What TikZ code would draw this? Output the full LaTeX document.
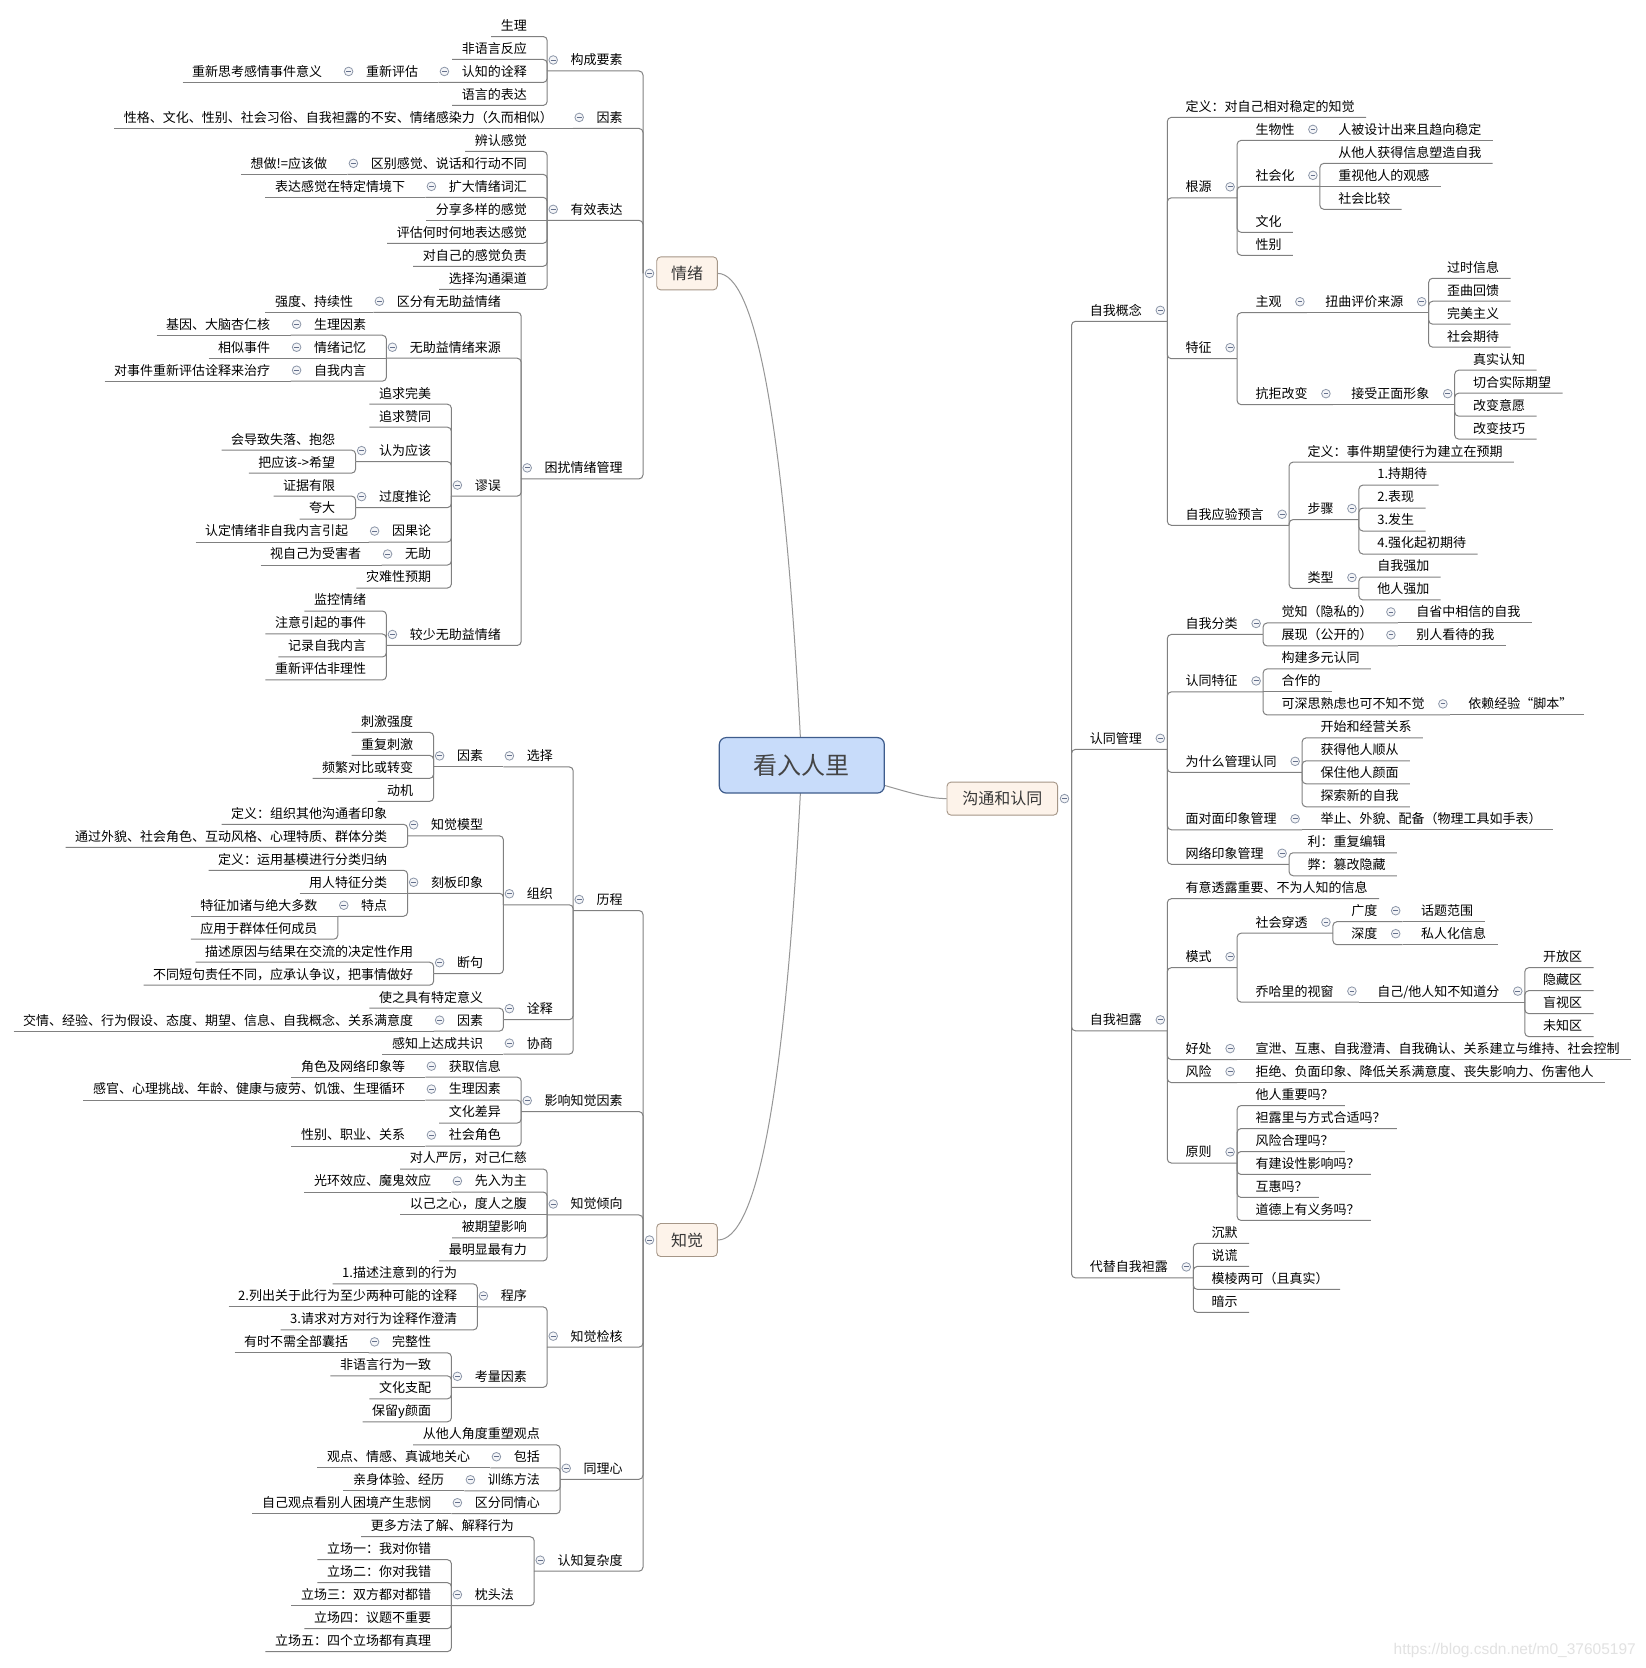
\documentclass[tikz,border=0pt]{standalone}
\usepackage{fontspec}
\setmainfont{Noto Sans CJK SC}
\newfontfamily\wmfont{Liberation Sans}
\usetikzlibrary{calc,backgrounds}
\definecolor{linegray}{RGB}{128,128,128}
\definecolor{curvegray}{RGB}{150,150,150}
\definecolor{brfill}{RGB}{253,243,234}
\definecolor{brdraw}{RGB}{165,150,135}
\definecolor{brtext}{RGB}{55,55,55}
\definecolor{rootfill}{RGB}{200,220,250}
\definecolor{rootdraw}{RGB}{62,92,140}
\definecolor{roottext}{RGB}{68,68,68}
\definecolor{colfill}{RGB}{244,245,248}
\definecolor{coldraw}{RGB}{140,150,168}
\definecolor{colminus}{RGB}{100,112,140}
\definecolor{wmgray}{RGB}{226,226,226}

\newdimen\mmtx
\newdimen\mmty
\newcount\leafcnt
\def\mmpitch{22.98}
\def\mmybase{0}

\tikzset{
  txt/.style={inner sep=0pt, outer sep=0pt, font=\fontsize{13}{13}\selectfont, text=black},
  conn/.style={draw=linegray, line width=1pt, rounded corners=4pt},
  curveline/.style={draw=curvegray, line width=1pt},
  branchbox/.style={draw=brdraw, fill=brfill, rounded corners=4pt, line width=0.9pt,
    font=\fontsize{16}{16}\selectfont, text=brtext, inner sep=0pt, minimum height=33pt},
  rootbox/.style={draw=rootdraw, fill=rootfill, rounded corners=7pt, line width=1.2pt,
    font=\fontsize{24}{24}\selectfont, text=roottext, inner sep=0pt,
    minimum width=165pt, minimum height=55.5pt},
  colc/.style={draw=coldraw, fill=colfill, line width=0.8pt},
  colm/.style={draw=colminus, line width=0.9pt},
}

% collapse mark
\newcommand\mmcol[2]{%
  \draw[colc] (#1,#2) circle (4.3pt);
  \draw[colm] (#1-2.4,#2) -- (#1+2.4,#2);
}
% parent junction -> \mmjx, \mmjy (downward)
\newcommand\getJ[1]{%
  \pgfextractx{\mmtx}{\pgfpointanchor{#1J}{center}}%
  \pgfextracty{\mmty}{\pgfpointanchor{#1J}{center}}%
  \pgfmathsetmacro\mmjx{\mmtx}%
  \pgfmathsetmacro\mmjy{-\mmty}%
}
\newcommand\mmconnect[1]{%
  \pgfmathsetmacro\mmul{\mmyc+11}%
  \pgfmathsetmacro\mmdiff{abs(\mmul-\mmjy)}%
  \ifdim\mmdiff pt<0.5pt
    \draw[conn] (\mmfar,\mmul) -- (\mmjx,\mmul);
  \else
    \draw[conn] (\mmfar,\mmul) -- (\mmjx,\mmul) -- (#1J);
  \fi
}
% left side
\newcommand\Lleaf[3]{%
  \global\advance\leafcnt by 1
  \getJ{#1}%
  \pgfmathsetmacro\mmyc{\mmybase+\mmpitch*(#2)}%
  \node[txt,anchor=base east] (leaf\the\leafcnt) at (\mmjx-20.4,\mmyc+4.9) {#3};
  \pgfextractx{\mmtx}{\pgfpointanchor{leaf\the\leafcnt}{west}}%
  \pgfmathsetmacro\mmfar{\mmtx-9.6}%
  \mmconnect{#1}%
}
\newcommand\Lpar[4]{%
  \getJ{#2}%
  \pgfmathsetmacro\mmyc{\mmybase+\mmpitch*(#3)}%
  \node[txt,anchor=base east] (#1) at (\mmjx-20.4,\mmyc+4.9) {#4};
  \pgfextractx{\mmtx}{\pgfpointanchor{#1}{west}}%
  \pgfmathsetmacro\mmwx{\mmtx}%
  \pgfmathsetmacro\mmfar{\mmwx-23.4}%
  \pgfmathsetmacro\mmcx{\mmwx-17.4}%
  \coordinate (#1J) at (\mmfar,\mmyc+11);
  \mmcol{\mmcx}{\mmyc}%
  \mmconnect{#2}%
}
% right side
\newcommand\Rleaf[3]{%
  \global\advance\leafcnt by 1
  \getJ{#1}%
  \pgfmathsetmacro\mmyc{\mmybase+\mmpitch*(#2)}%
  \node[txt,anchor=base west] (leaf\the\leafcnt) at (\mmjx+18.4,\mmyc+4.9) {#3};
  \pgfextractx{\mmtx}{\pgfpointanchor{leaf\the\leafcnt}{east}}%
  \pgfmathsetmacro\mmfar{\mmtx+11.4}%
  \mmconnect{#1}%
}
\newcommand\Rpar[4]{%
  \getJ{#2}%
  \pgfmathsetmacro\mmyc{\mmybase+\mmpitch*(#3)}%
  \node[txt,anchor=base west] (#1) at (\mmjx+18.4,\mmyc+4.9) {#4};
  \pgfextractx{\mmtx}{\pgfpointanchor{#1}{east}}%
  \pgfmathsetmacro\mmwx{\mmtx}%
  \pgfmathsetmacro\mmfar{\mmwx+25.4}%
  \pgfmathsetmacro\mmcx{\mmwx+18.4}%
  \coordinate (#1J) at (\mmfar,\mmyc+11);
  \mmcol{\mmcx}{\mmyc}%
  \mmconnect{#2}%
}

\begin{document}
\begin{tikzpicture}[x=1pt,y=-1pt]
\useasboundingbox (0,0) rectangle (1646,1668);

% central and main topics
\node[rootbox] (root) at (801.8,765.3) {看入人里};
\node[branchbox, minimum width=60.6pt] (QX) at (687,273.4) {情绪};
\node[branchbox, minimum width=60.6pt] (ZJ) at (687,1240) {知觉};
\node[branchbox, minimum width=110.6pt] (GT) at (1002.3,798.6) {沟通和认同};
\coordinate (QXJ) at (643,273.4);
\coordinate (ZJJ) at (643,1240);
\coordinate (GTJ) at (1071.5,798.6);
\mmcol{649.5}{273.4}
\mmcol{649.5}{1240}
\mmcol{1064.5}{798.6}

\begin{pgfonlayer}{background}
\fill[white] (0,0) rectangle (1646,1668);
\draw[curveline] (QX.east) .. controls (755,273.4) and (785,420) .. (root.center);
\draw[curveline] (ZJ.east) .. controls (755,1240) and (785,1110) .. (root.center);
\draw[curveline] (GT.west) .. controls (915,798.6) and (880,780) .. (root.center);
\end{pgfonlayer}

% ---------------- 情绪 ----------------
\def\mmybase{25.5}
\Lpar{gc}{QX}{1.5}{构成要素}
\Lleaf{gc}{0}{生理}
\Lleaf{gc}{1}{非语言反应}
\Lpar{rzqs}{gc}{2}{认知的诠释}
\Lpar{cxpg}{rzqs}{2}{重新评估}
\Lleaf{cxpg}{2}{重新思考感情事件意义}
\Lleaf{gc}{3}{语言的表达}
\Lpar{ysA}{QX}{4}{因素}
\Lleaf{ysA}{4}{性格、文化、性别、社会习俗、自我袒露的不安、情绪感染力（久而相似）}
\Lpar{yxbd}{QX}{8}{有效表达}
\Lleaf{yxbd}{5}{辨认感觉}
\Lpar{qbgj}{yxbd}{6}{区别感觉、说话和行动不同}
\Lleaf{qbgj}{6}{想做!=应该做}
\Lpar{kdqx}{yxbd}{7}{扩大情绪词汇}
\Lleaf{kdqx}{7}{表达感觉在特定情境下}
\Lleaf{yxbd}{8}{分享多样的感觉}
\Lleaf{yxbd}{9}{评估何时何地表达感觉}
\Lleaf{yxbd}{10}{对自己的感觉负责}
\Lleaf{yxbd}{11}{选择沟通渠道}
\Lpar{krgl}{QX}{19.25}{困扰情绪管理}
\Lpar{qfyw}{krgl}{12}{区分有无助益情绪}
\Lleaf{qfyw}{12}{强度、持续性}
\Lpar{wzly}{krgl}{14}{无助益情绪来源}
\Lpar{slysA}{wzly}{13}{生理因素}
\Lleaf{slysA}{13}{基因、大脑杏仁核}
\Lpar{qxjy}{wzly}{14}{情绪记忆}
\Lleaf{qxjy}{14}{相似事件}
\Lpar{zwny}{wzly}{15}{自我内言}
\Lleaf{zwny}{15}{对事件重新评估诠释来治疗}
\Lpar{mw}{krgl}{20}{谬误}
\Lleaf{mw}{16}{追求完美}
\Lleaf{mw}{17}{追求赞同}
\Lpar{rwyg}{mw}{18.5}{认为应该}
\Lleaf{rwyg}{18}{会导致失落、抱怨}
\Lleaf{rwyg}{19}{把应该->希望}
\Lpar{gdtl}{mw}{20.5}{过度推论}
\Lleaf{gdtl}{20}{证据有限}
\Lleaf{gdtl}{21}{夸大}
\Lpar{ygl}{mw}{22}{因果论}
\Lleaf{ygl}{22}{认定情绪非自我内言引起}
\Lpar{wzh}{mw}{23}{无助}
\Lleaf{wzh}{23}{视自己为受害者}
\Lleaf{mw}{24}{灾难性预期}
\Lpar{jswz}{krgl}{26.5}{较少无助益情绪}
\Lleaf{jswz}{25}{监控情绪}
\Lleaf{jswz}{26}{注意引起的事件}
\Lleaf{jswz}{27}{记录自我内言}
\Lleaf{jswz}{28}{重新评估非理性}

% ---------------- 知觉 ----------------
\def\mmybase{721.4}
\Lpar{lc}{ZJ}{7.75}{历程}
\Lpar{xz}{lc}{1.5}{选择}
\Lpar{xzys}{xz}{1.5}{因素}
\Lleaf{xzys}{0}{刺激强度}
\Lleaf{xzys}{1}{重复刺激}
\Lleaf{xzys}{2}{频繁对比或转变}
\Lleaf{xzys}{3}{动机}
\Lpar{zz}{lc}{7.5}{组织}
\Lpar{zjmx}{zz}{4.5}{知觉模型}
\Lleaf{zjmx}{4}{定义：组织其他沟通者印象}
\Lleaf{zjmx}{5}{通过外貌、社会角色、互动风格、心理特质、群体分类}
\Lpar{kbyx}{zz}{7}{刻板印象}
\Lleaf{kbyx}{6}{定义：运用基模进行分类归纳}
\Lleaf{kbyx}{7}{用人特征分类}
\Lpar{td}{kbyx}{8}{特点}
\Lleaf{td}{8}{特征加诸与绝大多数}
\Lleaf{td}{9}{应用于群体任何成员}
\Lpar{dj}{zz}{10.5}{断句}
\Lleaf{dj}{10}{描述原因与结果在交流的决定性作用}
\Lleaf{dj}{11}{不同短句责任不同，应承认争议，把事情做好}
\Lpar{qs}{lc}{12.5}{诠释}
\Lleaf{qs}{12}{使之具有特定意义}
\Lpar{qsys}{qs}{13}{因素}
\Lleaf{qsys}{13}{交情、经验、行为假设、态度、期望、信息、自我概念、关系满意度}
\Lpar{xs}{lc}{14}{协商}
\Lleaf{xs}{14}{感知上达成共识}
\Lpar{yxzj}{ZJ}{16.5}{影响知觉因素}
\Lpar{hqxx}{yxzj}{15}{获取信息}
\Lleaf{hqxx}{15}{角色及网络印象等}
\Lpar{slysB}{yxzj}{16}{生理因素}
\Lleaf{slysB}{16}{感官、心理挑战、年龄、健康与疲劳、饥饿、生理循环}
\Lleaf{yxzj}{17}{文化差异}
\Lpar{shjs}{yxzj}{18}{社会角色}
\Lleaf{shjs}{18}{性别、职业、关系}
\Lpar{zjqx}{ZJ}{21}{知觉倾向}
\Lleaf{zjqx}{19}{对人严厉，对己仁慈}
\Lpar{xrwz}{zjqx}{20}{先入为主}
\Lleaf{xrwz}{20}{光环效应、魔鬼效应}
\Lleaf{zjqx}{21}{以己之心，度人之腹}
\Lleaf{zjqx}{22}{被期望影响}
\Lleaf{zjqx}{23}{最明显最有力}
\Lpar{zjjh}{ZJ}{26.75}{知觉检核}
\Lpar{cx}{zjjh}{25}{程序}
\Lleaf{cx}{24}{1.描述注意到的行为}
\Lleaf{cx}{25}{2.列出关于此行为至少两种可能的诠释}
\Lleaf{cx}{26}{3.请求对方对行为诠释作澄清}
\Lpar{klys}{zjjh}{28.5}{考量因素}
\Lpar{wzx}{klys}{27}{完整性}
\Lleaf{wzx}{27}{有时不需全部囊括}
\Lleaf{klys}{28}{非语言行为一致}
\Lleaf{klys}{29}{文化支配}
\Lleaf{klys}{30}{保留y颜面}
\Lpar{tlx}{ZJ}{32.5}{同理心}
\Lleaf{tlx}{31}{从他人角度重塑观点}
\Lpar{bk}{tlx}{32}{包括}
\Lleaf{bk}{32}{观点、情感、真诚地关心}
\Lpar{xlff}{tlx}{33}{训练方法}
\Lleaf{xlff}{33}{亲身体验、经历}
\Lpar{qftq}{tlx}{34}{区分同情心}
\Lleaf{qftq}{34}{自己观点看别人困境产生悲悯}
\Lpar{rzfz}{ZJ}{36.5}{认知复杂度}
\Lleaf{rzfz}{35}{更多方法了解、解释行为}
\Lpar{ztf}{rzfz}{38}{枕头法}
\Lleaf{ztf}{36}{立场一：我对你错}
\Lleaf{ztf}{37}{立场二：你对我错}
\Lleaf{ztf}{38}{立场三：双方都对都错}
\Lleaf{ztf}{39}{立场四：议题不重要}
\Lleaf{ztf}{40}{立场五：四个立场都有真理}

% ---------------- 沟通和认同 ----------------
\def\mmybase{106.4}
\Rpar{zwgn}{GT}{8.875}{自我概念}
\Rleaf{zwgn}{0}{定义：对自己相对稳定的知觉}
\Rpar{gy}{zwgn}{3.5}{根源}
\Rpar{swx}{gy}{1}{生物性}
\Rleaf{swx}{1}{人被设计出来且趋向稳定}
\Rpar{shh}{gy}{3}{社会化}
\Rleaf{shh}{2}{从他人获得信息塑造自我}
\Rleaf{shh}{3}{重视他人的观感}
\Rleaf{shh}{4}{社会比较}
\Rleaf{gy}{5}{文化}
\Rleaf{gy}{6}{性别}
\Rpar{tzA}{zwgn}{10.5}{特征}
\Rpar{zg}{tzA}{8.5}{主观}
\Rpar{nqpj}{zg}{8.5}{扭曲评价来源}
\Rleaf{nqpj}{7}{过时信息}
\Rleaf{nqpj}{8}{歪曲回馈}
\Rleaf{nqpj}{9}{完美主义}
\Rleaf{nqpj}{10}{社会期待}
\Rpar{kjgb}{tzA}{12.5}{抗拒改变}
\Rpar{jszm}{kjgb}{12.5}{接受正面形象}
\Rleaf{jszm}{11}{真实认知}
\Rleaf{jszm}{12}{切合实际期望}
\Rleaf{jszm}{13}{改变意愿}
\Rleaf{jszm}{14}{改变技巧}
\Rpar{zwyy}{zwgn}{17.75}{自我应验预言}
\Rleaf{zwyy}{15}{定义：事件期望使行为建立在预期}
\Rpar{bz}{zwyy}{17.5}{步骤}
\Rleaf{bz}{16}{1.持期待}
\Rleaf{bz}{17}{2.表现}
\Rleaf{bz}{18}{3.发生}
\Rleaf{bz}{19}{4.强化起初期待}
\Rpar{lx}{zwyy}{20.5}{类型}
\Rleaf{lx}{20}{自我强加}
\Rleaf{lx}{21}{他人强加}
\Rpar{rtgl}{GT}{27.5}{认同管理}
\Rpar{zwfl}{rtgl}{22.5}{自我分类}
\Rpar{jzA}{zwfl}{22}{觉知（隐私的）}
\Rleaf{jzA}{22}{自省中相信的自我}
\Rpar{zxA}{zwfl}{23}{展现（公开的）}
\Rleaf{zxA}{23}{别人看待的我}
\Rpar{rttz}{rtgl}{25}{认同特征}
\Rleaf{rttz}{24}{构建多元认同}
\Rleaf{rttz}{25}{合作的}
\Rpar{ksss}{rttz}{26}{可深思熟虑也可不知不觉}
\Rleaf{ksss}{26}{依赖经验“脚本”}
\Rpar{wsm}{rtgl}{28.5}{为什么管理认同}
\Rleaf{wsm}{27}{开始和经营关系}
\Rleaf{wsm}{28}{获得他人顺从}
\Rleaf{wsm}{29}{保住他人颜面}
\Rleaf{wsm}{30}{探索新的自我}
\Rpar{mdm}{rtgl}{31}{面对面印象管理}
\Rleaf{mdm}{31}{举止、外貌、配备（物理工具如手表）}
\Rpar{wlyx}{rtgl}{32.5}{网络印象管理}
\Rleaf{wlyx}{32}{利：重复编辑}
\Rleaf{wlyx}{33}{弊：篡改隐藏}
\Rpar{zwtl}{GT}{39.75}{自我袒露}
\Rleaf{zwtl}{34}{有意透露重要、不为人知的信息}
\Rpar{ms}{zwtl}{37}{模式}
\Rpar{shct}{ms}{35.5}{社会穿透}
\Rpar{gd}{shct}{35}{广度}
\Rleaf{gd}{35}{话题范围}
\Rpar{sd}{shct}{36}{深度}
\Rleaf{sd}{36}{私人化信息}
\Rpar{qhl}{ms}{38.5}{乔哈里的视窗}
\Rpar{zjtr}{qhl}{38.5}{自己/他人知不知道分}
\Rleaf{zjtr}{37}{开放区}
\Rleaf{zjtr}{38}{隐藏区}
\Rleaf{zjtr}{39}{盲视区}
\Rleaf{zjtr}{40}{未知区}
\Rpar{hc}{zwtl}{41}{好处}
\Rleaf{hc}{41}{宣泄、互惠、自我澄清、自我确认、关系建立与维持、社会控制}
\Rpar{fx}{zwtl}{42}{风险}
\Rleaf{fx}{42}{拒绝、负面印象、降低关系满意度、丧失影响力、伤害他人}
\Rpar{yz}{zwtl}{45.5}{原则}
\Rleaf{yz}{43}{他人重要吗？}
\Rleaf{yz}{44}{袒露里与方式合适吗？}
\Rleaf{yz}{45}{风险合理吗？}
\Rleaf{yz}{46}{有建设性影响吗？}
\Rleaf{yz}{47}{互惠吗？}
\Rleaf{yz}{48}{道德上有义务吗？}
\Rpar{dtzw}{GT}{50.5}{代替自我袒露}
\Rleaf{dtzw}{49}{沉默}
\Rleaf{dtzw}{50}{说谎}
\Rleaf{dtzw}{51}{模棱两可（且真实）}
\Rleaf{dtzw}{52}{暗示}

% watermark
\node[font=\wmfont\fontsize{15.5}{15.5}\selectfont, text=wmgray, anchor=east, inner sep=0pt] (wm) at (1636,1650) {https://blog.csdn.net/m0\_37605197};
\end{tikzpicture}
\end{document}
